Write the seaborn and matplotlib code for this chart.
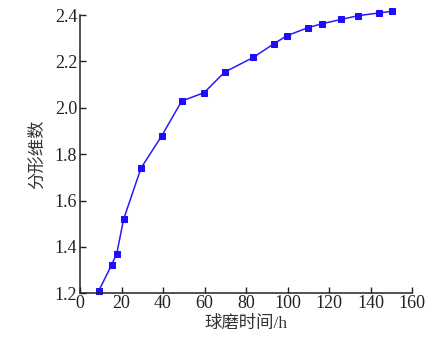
import matplotlib
matplotlib.use("Agg")
import matplotlib.pyplot as plt
import seaborn as sns
import pandas as pd

# 数据：球磨时间 (h) 与分形维数
milling_time = [9, 15.3, 17.7, 21, 29.4, 39.4, 49, 59.8, 69.7, 83.5,
                93.4, 99.8, 109.7, 116.8, 126, 133.9, 144.2, 150.3]
fractal_dim = [1.21, 1.324, 1.371, 1.519, 1.740, 1.879, 2.029, 2.065, 2.154, 2.217,
               2.276, 2.311, 2.345, 2.363, 2.381, 2.397, 2.409, 2.416]
x_ticks = [0, 20, 40, 60, 80, 100, 120, 140, 160]
y_ticks = [1.2, 1.4, 1.6, 1.8, 2.0, 2.2, 2.4]

sns.set_style("ticks")
plt.rcParams['font.family'] = ['Liberation Serif', 'Noto Sans CJK SC']

df = pd.DataFrame({"time": milling_time, "dim": fractal_dim})

fig = plt.figure(figsize=(4.46, 3.42), dpi=100)
ax = fig.add_axes([0.1794, 0.1424, 0.7444, 0.8137])

sns.lineplot(data=df, x="time", y="dim", ax=ax, color="#2a1bf5",
             linewidth=1.1, marker="s", markersize=4.7,
             markeredgecolor="#1e0cff", markerfacecolor="#1e0cff",
             clip_on=False)

ax.set_xlim(0, 160)
ax.set_ylim(1.2, 2.4)
ax.set_xticks(x_ticks)
ax.set_yticks(y_ticks)
ax.set_yticklabels([f"{v:.1f}" for v in y_ticks])
ax.tick_params(direction="in", length=4, width=1, labelsize=13, pad=2,
               colors="#222222")
ax.tick_params(axis="x", pad=1)

for side in ["top", "right"]:
    ax.spines[side].set_visible(False)
for side in ["left", "bottom"]:
    ax.spines[side].set_linewidth(1.1)
    ax.spines[side].set_color("#222222")

ax.set_xlabel("球磨时间/h", fontsize=12.5, color="#333333", labelpad=3,
              family=['Liberation Serif', 'Noto Sans CJK SC'])
ax.set_ylabel("分形维数", fontsize=12.5, color="#333333", labelpad=6,
              family=['Liberation Serif', 'Noto Sans CJK SC'])

fig.savefig("out.png", dpi=100)
plt.close(fig)
